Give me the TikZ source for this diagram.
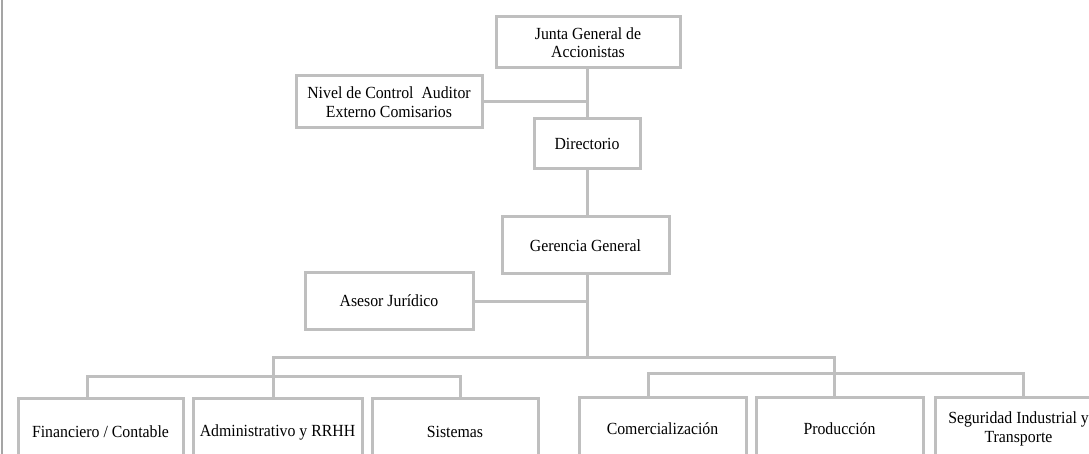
\documentclass[tikz,border=0pt]{standalone}
\usepackage{fontspec}
\setmainfont{Liberation Serif}[FakeStretch=0.93]
\definecolor{linegray}{RGB}{191,191,191}
\definecolor{framegray}{RGB}{165,165,165}
\begin{document}
\begin{tikzpicture}[x=1pt,y=-1pt,
  unit/.style={draw=linegray, line width=3pt, fill=white, align=center,
    inner sep=0pt, font=\fontsize{17}{18.5}\selectfont},
  link/.style={draw=linegray, line width=3pt},
]
\useasboundingbox (0,0) rectangle (1089,454);
\clip (0,0) rectangle (1089,454);

% page frame on the left
\draw[framegray, line width=2pt] (2,0) -- (2,454);

% upper chain
\node[unit, minimum width=184pt, minimum height=51pt] (junta) at (588,42.5) {Junta General de\\Accionistas};
\node[unit, minimum width=186pt, minimum height=52pt] (nivel) at (389,102) {Nivel de Control\ \ Auditor\\Externo Comisarios};
\node[unit, minimum width=106pt, minimum height=50pt] (dir) at (587,144) {Directorio};
\node[unit, minimum width=167pt, minimum height=57pt] (ger) at (585.5,245.5) {Gerencia General};
\node[unit, minimum width=168pt, minimum height=56pt] (ase) at (389,301) {Asesor Jurídico};

% departments
\node[unit, minimum width=165pt, minimum height=68pt] (fin) at (100.5,432) {Financiero / Contable};
\node[unit, minimum width=169pt, minimum height=68pt] (adm) at (277.5,432) {Administrativo y RRHH};
\node[unit, minimum width=166pt, minimum height=68pt] (sis) at (455,432) {Sistemas};
\node[unit, minimum width=167pt, minimum height=64pt] (com) at (662.5,429) {Comercialización};
\node[unit, minimum width=167pt, minimum height=64pt] (pro) at (839.5,429) {Producción};
\node[unit, minimum width=167pt, minimum height=64pt] (seg) at (1018.5,429) {Seguridad Industrial y\\Transporte};

% junction points
\coordinate (hub) at (587,357);
\coordinate (mainL) at (273,357);
\coordinate (mainR) at (834,357);
\coordinate (subL1) at (87,376);
\coordinate (subL3) at (460,376);
\coordinate (subR1) at (648,373);
\coordinate (subR3) at (1023,373);

% connectors
\draw[link] (junta.south -| hub) -- (dir.north -| hub);
\draw[link] (nivel.east) -- (nivel.east -| hub);
\draw[link] (dir.south -| hub) -- (ger.north -| hub);
\draw[link] (ger.south -| hub) -- (hub);
\draw[link] (ase.east) -- (ase.east -| hub);
\draw[link] (mainL |- adm.north) -- (mainL) -- (mainR) -- (mainR |- pro.north);
\draw[link] (subL1 |- fin.north) -- (subL1) -- (subL3) -- (subL3 |- sis.north);
\draw[link] (subR1 |- com.north) -- (subR1) -- (subR3) -- (subR3 |- seg.north);
\end{tikzpicture}
\end{document}
